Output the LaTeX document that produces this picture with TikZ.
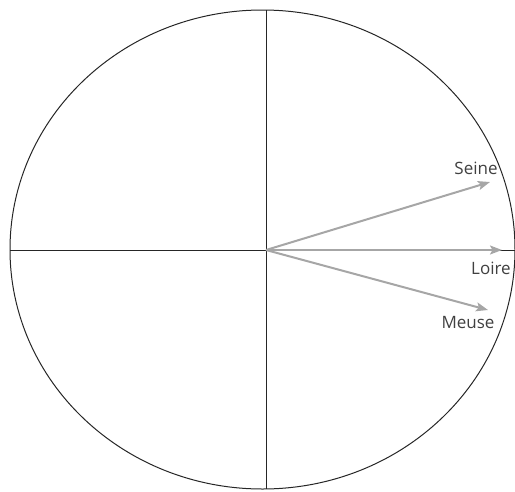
\documentclass[tikz,border=0pt]{standalone}
\usepackage{fontspec}
\setmainfont{Open Sans}
\usetikzlibrary{arrows.meta}
\begin{document}
\begin{tikzpicture}[x=1pt,y=-1pt,
  axis/.style={draw=black!85,line width=1pt},
  vec/.style={draw=black!35,line width=2pt,-{Stealth[length=12pt,width=9pt,inset=2.5pt]}},
  lbl/.style={text=black!75,font=\fontsize{17}{19}\selectfont,inner sep=0pt}]
\useasboundingbox (0,0) rectangle (515,491);
\coordinate (o) at (266,250);
\draw[axis] (262.5,249.5) ellipse [x radius=252.5, y radius=239.5];
\coordinate (l) at (10,250);
\coordinate (r) at (515,250);
\coordinate (t) at (266,10);
\coordinate (b) at (266,489);
\draw[axis] (l) -- (r);
\draw[axis] (t) -- (b);
\coordinate (se) at (490,182);
\coordinate (lo) at (502,250);
\coordinate (me) at (488,310);
\draw[vec] (o) -- (se);
\draw[vec] (o) -- (lo);
\draw[vec] (o) -- (me);
\node[lbl] (seine) at (476,168) {Seine};
\node[lbl] (loire) at (491,268) {Loire};
\node[lbl] (meuse) at (468,323) {Meuse};
\end{tikzpicture}
\end{document}
